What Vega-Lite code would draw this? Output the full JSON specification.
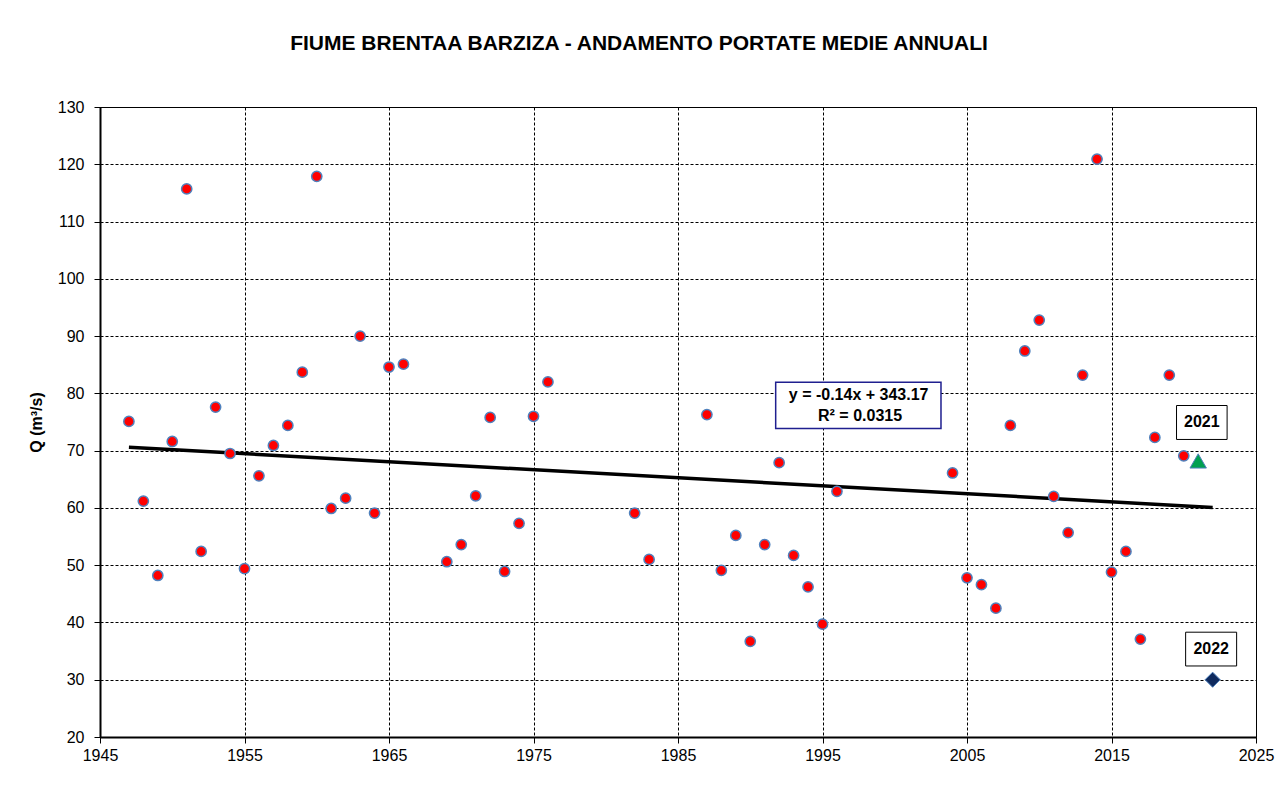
{
  "$schema": "https://vega.github.io/schema/vega-lite/v6.json",
  "width": 1156,
  "height": 630,
  "autosize": {"type": "none"},
  "padding": {"left": 100, "top": 107, "right": 22, "bottom": 48},
  "background": "white",
  "config": {
    "font": "Liberation Sans",
    "view": {"stroke": "#000", "strokeWidth": 1}
  },
  "title": {
    "text": "FIUME BRENTAA BARZIZA - ANDAMENTO PORTATE MEDIE ANNUALI",
    "font": "Liberation Sans",
    "fontSize": 21,
    "fontWeight": "bold",
    "color": "#000",
    "anchor": "middle",
    "offset": 45,
    "dx": -39
  },
  "datasets": {
    "obs": [
      {"year": 1947, "q": 75.1}, {"year": 1948, "q": 61.2}, {"year": 1949, "q": 48.2}, {"year": 1950, "q": 71.6},
      {"year": 1951, "q": 115.7}, {"year": 1952, "q": 52.4}, {"year": 1953, "q": 77.6}, {"year": 1954, "q": 69.5},
      {"year": 1955, "q": 49.4}, {"year": 1956, "q": 65.6}, {"year": 1957, "q": 70.9}, {"year": 1958, "q": 74.4},
      {"year": 1959, "q": 83.7}, {"year": 1960, "q": 117.9}, {"year": 1961, "q": 59.9}, {"year": 1962, "q": 61.7},
      {"year": 1963, "q": 90.0}, {"year": 1964, "q": 59.1}, {"year": 1965, "q": 84.6}, {"year": 1966, "q": 85.1},
      {"year": 1969, "q": 50.6}, {"year": 1970, "q": 53.6}, {"year": 1971, "q": 62.1}, {"year": 1972, "q": 75.8},
      {"year": 1973, "q": 48.9}, {"year": 1974, "q": 57.3}, {"year": 1975, "q": 76.0}, {"year": 1976, "q": 82.0},
      {"year": 1982, "q": 59.1}, {"year": 1983, "q": 51.0}, {"year": 1987, "q": 76.3}, {"year": 1988, "q": 49.1},
      {"year": 1989, "q": 55.2}, {"year": 1990, "q": 36.7}, {"year": 1991, "q": 53.6}, {"year": 1992, "q": 67.9},
      {"year": 1993, "q": 51.7}, {"year": 1994, "q": 46.2}, {"year": 1995, "q": 39.7}, {"year": 1996, "q": 62.9},
      {"year": 2004, "q": 66.1}, {"year": 2005, "q": 47.8}, {"year": 2006, "q": 46.6}, {"year": 2007, "q": 42.5},
      {"year": 2008, "q": 74.4}, {"year": 2009, "q": 87.4}, {"year": 2010, "q": 92.8}, {"year": 2011, "q": 62.0},
      {"year": 2012, "q": 55.7}, {"year": 2013, "q": 83.2}, {"year": 2014, "q": 120.9}, {"year": 2015, "q": 48.8},
      {"year": 2016, "q": 52.4}, {"year": 2017, "q": 37.1}, {"year": 2018, "q": 72.3}, {"year": 2019, "q": 83.2},
      {"year": 2020, "q": 69.1}
    ],
    "y2021": [{"year": 2021, "q": 68.2}],
    "y2022": [{"year": 2022, "q": 30.0}],
    "trend": [{"year": 1947, "q": 70.59}, {"year": 2022, "q": 60.09}],
    "eq": [{"label": "y = -0.14x + 343.17"}],
    "r2": [{"label": "R² = 0.0315"}],
    "l2021": [{"label": "2021"}],
    "l2022": [{"label": "2022"}]
  },
  "layer": [
    {
      "data": {"name": "trend"},
      "mark": {"type": "line", "color": "#000", "strokeWidth": 3.5},
      "encoding": {
        "x": {
          "field": "year", "type": "quantitative",
          "scale": {"domain": [1945, 2025], "nice": false, "zero": false},
          "axis": {
            "title": null, "values": [1945, 1955, 1965, 1975, 1985, 1995, 2005, 2015, 2025],
            "format": "d", "labelFontSize": 16, "labelColor": "#000", "labelFont": "Liberation Sans",
            "labelFlush": false,
            "tickSize": 6, "tickColor": "#000", "labelPadding": 4,
            "domainColor": "#000", "domainWidth": 2,
            "grid": true, "gridColor": "#000", "gridDash": [3, 2], "gridWidth": 1
          }
        },
        "y": {
          "field": "q", "type": "quantitative",
          "scale": {"domain": [20, 130], "nice": false, "zero": false},
          "axis": {
            "title": "Q (m³/s)", "titleFontSize": 16, "titleFontWeight": "bold", "titleColor": "#000",
            "titleFont": "Liberation Sans", "titlePadding": 13,
            "values": [20, 30, 40, 50, 60, 70, 80, 90, 100, 110, 120, 130],
            "labelFontSize": 16, "labelColor": "#000", "labelFont": "Liberation Sans",
            "labelFlush": false,
            "tickSize": 6, "tickColor": "#000", "labelPadding": 10,
            "domainColor": "#000", "domainWidth": 2,
            "grid": true, "gridColor": "#000", "gridDash": [3, 2], "gridWidth": 1
          }
        }
      }
    },
    {
      "data": {"name": "obs"},
      "mark": {"type": "point", "shape": "circle", "filled": true, "fill": "#FF0000", "stroke": "#4F81BD", "strokeWidth": 1.5, "size": 105, "opacity": 1},
      "encoding": {
        "x": {"field": "year", "type": "quantitative"},
        "y": {"field": "q", "type": "quantitative"}
      }
    },
    {
      "data": {"name": "y2021"},
      "mark": {"type": "point", "shape": "triangle-up", "filled": true, "fill": "#00A050", "stroke": "#4F81BD", "strokeWidth": 1, "size": 270, "opacity": 1},
      "encoding": {
        "x": {"field": "year", "type": "quantitative"},
        "y": {"field": "q", "type": "quantitative"}
      }
    },
    {
      "data": {"name": "y2022"},
      "mark": {"type": "point", "shape": "diamond", "filled": true, "fill": "#0F2A5E", "stroke": "#4F81BD", "strokeWidth": 1, "size": 230, "opacity": 1},
      "encoding": {
        "x": {"field": "year", "type": "quantitative"},
        "y": {"field": "q", "type": "quantitative"}
      }
    },
    {
      "data": {"name": "eq"},
      "mark": {"type": "rect", "fill": "white", "stroke": "#1F1F8F", "strokeWidth": 1.5},
      "encoding": {
        "x": {"datum": 1991.76, "type": "quantitative"},
        "x2": {"datum": 2003.2},
        "y": {"datum": 81.94, "type": "quantitative"},
        "y2": {"datum": 73.87}
      }
    },
    {
      "data": {"name": "eq"},
      "mark": {"type": "text", "fontSize": 16, "fontWeight": "bold", "font": "Liberation Sans", "color": "#000", "align": "center", "baseline": "middle"},
      "encoding": {
        "x": {"datum": 1997.5, "type": "quantitative"},
        "y": {"datum": 79.65, "type": "quantitative"},
        "text": {"field": "label", "type": "nominal"}
      }
    },
    {
      "data": {"name": "r2"},
      "mark": {"type": "text", "fontSize": 16, "fontWeight": "bold", "font": "Liberation Sans", "color": "#000", "align": "center", "baseline": "middle"},
      "encoding": {
        "x": {"datum": 1997.6, "type": "quantitative"},
        "y": {"datum": 76.05, "type": "quantitative"},
        "text": {"field": "label", "type": "nominal"}
      }
    },
    {
      "data": {"name": "l2021"},
      "mark": {"type": "rect", "fill": "white", "stroke": "#000", "strokeWidth": 1},
      "encoding": {
        "x": {"datum": 2019.5, "type": "quantitative"},
        "x2": {"datum": 2023.0},
        "y": {"datum": 77.88, "type": "quantitative"},
        "y2": {"datum": 71.95}
      }
    },
    {
      "data": {"name": "l2021"},
      "mark": {"type": "text", "fontSize": 16, "fontWeight": "bold", "font": "Liberation Sans", "color": "#000", "align": "center", "baseline": "middle"},
      "encoding": {
        "x": {"datum": 2021.25, "type": "quantitative"},
        "y": {"datum": 74.95, "type": "quantitative"},
        "text": {"field": "label", "type": "nominal"}
      }
    },
    {
      "data": {"name": "l2022"},
      "mark": {"type": "rect", "fill": "white", "stroke": "#000", "strokeWidth": 1},
      "encoding": {
        "x": {"datum": 2020.13, "type": "quantitative"},
        "x2": {"datum": 2023.66},
        "y": {"datum": 38.3, "type": "quantitative"},
        "y2": {"datum": 32.4}
      }
    },
    {
      "data": {"name": "l2022"},
      "mark": {"type": "text", "fontSize": 16, "fontWeight": "bold", "font": "Liberation Sans", "color": "#000", "align": "center", "baseline": "middle"},
      "encoding": {
        "x": {"datum": 2021.9, "type": "quantitative"},
        "y": {"datum": 35.4, "type": "quantitative"},
        "text": {"field": "label", "type": "nominal"}
      }
    }
  ]
}
